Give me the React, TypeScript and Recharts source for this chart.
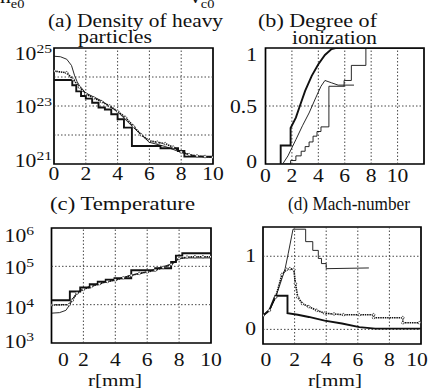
import { LineChart, Line, XAxis, YAxis, ReferenceLine, ReferenceArea } from "recharts";
import type { ReactNode } from "react";

const FONT = '"Liberation Serif", "DejaVu Serif", serif';
const W = 428;
const H = 389;

// (a) density of heavy particles [m^-3]
const aRDome = [0, 0.4, 0.8, 1.1, 1.3, 1.45, 1.6, 2, 3, 4, 5, 6, 7, 8, 9, 10];
const aDome = [5.2e24, 5.0e24, 4.1e24, 2.5e24, 1.1e24, 7e23, 5e23, 2.8e23, 1.5e23, 6.3e22, 1.8e22, 5.6e21, 4e21, 2.5e21, 1.8e21, 1.7e21];
const aRMark = [0, 0.8, 1.2, 1.6, 2, 2.5, 3, 3.5, 4, 4.5, 5, 5.5, 6, 6.5, 7, 7.5, 8, 8.5, 9, 9.5, 10];
const aMark = [1.6e24, 1.4e24, 8.3e23, 4.5e23, 2.6e23, 1.9e23, 1.4e23, 1e23, 6.6e22, 4e22, 2e22, 1e22, 6.3e21, 5.6e21, 5e21, 3.8e21, 2.6e21, 2.1e21, 1.9e21, 1.8e21, 1.7e21];
const aRStep = [0, 1.15, 1.4, 1.7, 2.0, 2.4, 2.8, 3.2, 3.6, 4.0, 4.4, 4.9, 6.7, 7.8, 8.2, 10];
const aStep = [7.9e23, 5.2e23, 3.2e23, 2.2e23, 1.8e23, 1.3e23, 8.9e22, 7.6e22, 5.2e22, 3.5e22, 1.8e22, 4.2e21, 3.5e21, 2.8e21, 1.8e21, 1.8e21];

// (b) degree of ionization
const bRThick = [1.15, 1.15, 1.9, 1.9, 2.3, 2.6, 3.0, 3.5, 4.0, 4.5, 5.0, 5.3, 12];
const bThick = [0, 0.16, 0.16, 0.31, 0.4, 0.5, 0.63, 0.76, 0.86, 0.94, 0.99, 1.0, 1.0];
const bRThin = [1.3, 1.7, 2.3, 2.8, 3.3, 3.8, 4.2, 4.5, 5.0, 5.5, 6.0, 6.7];
const bThin = [0, 0.07, 0.21, 0.33, 0.44, 0.57, 0.67, 0.72, 0.7, 0.68, 0.68, 0.68];
const bRStair = [1.4, 1.9, 2.3, 2.7, 3.0, 3.3, 3.6, 3.9, 4.2, 4.8, 5.95, 6.5, 7.6, 12];
const bStair = [0, 0.03, 0.07, 0.11, 0.15, 0.19, 0.24, 0.28, 0.32, 0.67, 0.72, 0.85, 1.0, 1.0];

// (c) temperature [K]
const cRStep = [0, 1.15, 1.8, 2.4, 2.9, 3.4, 3.95, 5.0, 6.5, 7.5, 7.8, 8.2, 10];
const cStep = [1.3e4, 2.2e4, 2.8e4, 3.4e4, 4e4, 4.5e4, 4.9e4, 7.9e4, 8.9e4, 1.3e5, 1.9e5, 2.2e5, 2.2e5];
const cRThin = [0, 0.5, 0.9, 1.15, 1.3, 1.6, 2, 3, 4, 5, 6, 7, 7.6, 8, 8.5, 9, 10];
const cThin = [6e3, 6.2e3, 7.1e3, 1e4, 1.4e4, 2e4, 2.6e4, 3.6e4, 4.4e4, 5.9e4, 7.2e4, 9.8e4, 1.17e5, 1.6e5, 1.66e5, 1.66e5, 1.66e5];
const cRMark = [0, 1.1, 1.3, 1.6, 2, 2.5, 3, 3.5, 4, 4.5, 5, 5.5, 6, 6.5, 7, 7.5, 8, 8.5, 9, 9.5, 10];
const cMark = [9.8e3, 1e4, 1.3e4, 2e4, 2.5e4, 3e4, 3.5e4, 4e4, 4.4e4, 5e4, 5.8e4, 6.5e4, 7.1e4, 7.9e4, 9.3e4, 1.12e5, 1.6e5, 1.74e5, 1.78e5, 1.78e5, 1.78e5];

// (d) Mach number
const dRUpper = [0, 0.4, 0.8, 1.1, 1.4, 1.6, 1.9, 2.7, 2.7, 3.15, 3.15, 3.5, 3.5, 3.7, 3.7, 4.0, 4.0, 6.7];
const dUpper = [0.19, 0.26, 0.44, 0.63, 0.83, 1.04, 1.37, 1.37, 1.2, 1.2, 1.08, 1.08, 0.97, 0.97, 0.9, 0.9, 0.83, 0.84];
const dRMark = [0, 0.4, 0.8, 1.2, 1.5, 1.7, 1.95, 2.05, 2.2, 2.5, 2.9, 3.4, 3.9, 4.5, 5.1, 6.1, 7.0, 7.0, 8.85, 8.85, 9.9];
const dMark = [0.19, 0.26, 0.44, 0.75, 0.82, 0.83, 0.82, 0.63, 0.44, 0.35, 0.31, 0.26, 0.22, 0.21, 0.2, 0.2, 0.2, 0.16, 0.16, 0.09, 0.09];
const dRLower = [0, 0.4, 0.78, 1.55, 1.55, 2.2, 2.9, 3.9, 5.0, 6.1, 7.1, 10];
const dLower = [0.19, 0.26, 0.46, 0.46, 0.22, 0.2, 0.17, 0.12, 0.08, 0.03, 0.01, 0.01];

const xTicks10 = [0, 2, 4, 6, 8, 10];

const pts = (rs: number[], vs: number[]) => rs.map((r, i) => ({ r, v: vs[i] }));

function SText({ x, y, anchor = "start", size = 18, len, children }: { x: number; y: number; anchor?: string; size?: number; len?: number; children: ReactNode }) {
  return (
    <text
      transform={`translate(${x},${y}) scale(1.2,1)`}
      textAnchor={anchor}
      fontSize={size}
      fontFamily={FONT}
      fill="#111"
      textLength={len ? len / 1.2 : undefined}
      lengthAdjust={len ? "spacingAndGlyphs" : undefined}
    >
      {children}
    </text>
  );
}

type Series = { data: { r: number; v: number }[]; kind: "thin" | "thick" | "mark"; step?: boolean };

interface PanelProps {
  box: [number, number, number, number]; // left, top, right, bottom
  xDomain: [number, number];
  yDomain: [number, number];
  log?: boolean;
  xGrid: number[];
  yGrid: number[];
  yTicks: number[];
  yOff: number[];
  yRight: number;
  xBase: number;
  zeroShift?: number;
  tenShift?: number;
  series: Series[];
}

function Panel({ box, xDomain, yDomain, log, xGrid, yGrid, yTicks, yOff, yRight, xBase, zeroShift = 0, tenShift = 0, series }: PanelProps) {
  const [l, t, r, b] = box;
  const grid = { stroke: "#333", strokeWidth: 0.9, strokeDasharray: "1.5 2" };
  return (
    <div style={{ position: "absolute", left: 0, top: 0 }}>
      <LineChart width={W} height={H} margin={{ left: l - 1, top: t, right: W - r, bottom: H - b - 1 }}>
        <XAxis
          type="number"
          dataKey="r"
          domain={xDomain}
          ticks={xTicks10}
          interval={0}
          height={1}
          axisLine={false}
          tickLine={false}
          tickSize={0}
          tickMargin={0}
          allowDataOverflow
          tick={(p: any) => {
            const v = p.payload.value;
            const dx = v === 0 ? zeroShift : v === 10 ? tenShift : 0;
            return (
              <SText x={p.x + dx} y={xBase} anchor="middle">
                {v}
              </SText>
            );
          }}
        />
        <YAxis
          type="number"
          scale={log ? "log" : "linear"}
          domain={yDomain}
          ticks={yTicks}
          interval={0}
          width={1}
          axisLine={false}
          tickLine={false}
          tickSize={0}
          tickMargin={0}
          allowDataOverflow
          tick={(p: any) => {
            const v = p.payload.value;
            const off = yOff[yTicks.indexOf(v)] ?? 6;
            return log ? (
              <SText x={yRight} y={p.y + off} anchor="end">
                10<tspan dy={-7} fontSize={13}>{Math.round(Math.log10(v))}</tspan>
              </SText>
            ) : (
              <SText x={yRight} y={p.y + off} anchor="end">
                {v}
              </SText>
            );
          }}
        />
        {xGrid.map((g) => (
          <ReferenceLine key={`x${g}`} x={g} {...grid} />
        ))}
        {yGrid.map((g) => (
          <ReferenceLine key={`y${g}`} y={g} {...grid} />
        ))}
        {series.map((s, i) => (
          <Line
            key={i}
            data={s.data}
            dataKey="v"
            type={s.step ? "stepAfter" : "linear"}
            stroke="#111"
            strokeWidth={s.kind === "thick" ? 1.9 : s.kind === "mark" ? 1.6 : 0.9}
            strokeDasharray={s.kind === "mark" ? "1.5 0.8" : undefined}
            dot={s.kind === "mark" ? { r: 1.3, fill: "#fff", stroke: "#111", strokeWidth: 0.8 } : false}
            activeDot={false}
            isAnimationActive={false}
          />
        ))}
        <ReferenceArea x1={xDomain[0]} x2={xDomain[1]} y1={yDomain[0]} y2={yDomain[1]} fill="none" fillOpacity={0} stroke="#000" strokeWidth={1.7} />
      </LineChart>
    </div>
  );
}

export default function App() {
  return (
    <div style={{ position: "absolute", left: 0, top: 0, width: W, height: H, background: "#fff", overflow: "hidden" }}>
      <Panel
        box={[54, 48, 213, 164]}
        xDomain={[0, 10]}
        yDomain={[1e21, 1e25]}
        log
        xGrid={[2, 4, 6, 8]}
        yGrid={[1e22, 1e23, 1e24]}
        yTicks={[1e21, 1e23, 1e25]}
        yOff={[3, 7, 12]}
        yRight={52}
        xBase={180}
        series={[
          { data: pts(aRDome, aDome), kind: "thin" },
          { data: pts(aRMark, aMark), kind: "mark" },
          { data: pts(aRStep, aStep), kind: "thick", step: true },
        ]}
      />
      <Panel
        box={[265.5, 48, 424, 164]}
        xDomain={[0, 12]}
        yDomain={[0, 1]}
        xGrid={[2, 4, 6, 8, 10]}
        yGrid={[0.5]}
        yTicks={[0, 0.5, 1]}
        yOff={[4, 7, 13]}
        yRight={257}
        xBase={182}
        series={[
          { data: pts(bRThick, bThick), kind: "thick" },
          { data: pts(bRThin, bThin), kind: "thin" },
          { data: pts(bRStair, bStair), kind: "thin", step: true },
        ]}
      />
      <Panel
        box={[51.5, 228, 211, 343]}
        xDomain={[0, 10]}
        yDomain={[1e3, 1e6]}
        log
        xGrid={[2, 4, 6, 8]}
        yGrid={[1e4, 1e5]}
        yTicks={[1e3, 1e4, 1e5, 1e6]}
        yOff={[5, 9, 8, 14]}
        yRight={34}
        xBase={366}
        zeroShift={12}
        series={[
          { data: pts(cRThin, cThin), kind: "thin" },
          { data: pts(cRMark, cMark), kind: "mark" },
          { data: pts(cRStep, cStep), kind: "thick", step: true },
        ]}
      />
      <Panel
        box={[263, 227, 421, 344]}
        xDomain={[0, 10]}
        yDomain={[-0.2, 1.4]}
        xGrid={[2, 4, 6, 8]}
        yGrid={[0, 1]}
        yTicks={[0, 1]}
        yOff={[6, 6]}
        yRight={256}
        xBase={366}
        zeroShift={3}
        tenShift={-4}
        series={[
          { data: pts(dRUpper, dUpper), kind: "thin" },
          { data: pts(dRMark, dMark), kind: "mark" },
          { data: pts(dRLower, dLower), kind: "thick" },
        ]}
      />
      <svg width={W} height={H} style={{ position: "absolute", left: 0, top: 0, pointerEvents: "none" }}>
        <SText x={0} y={3}>
          n<tspan dy={5} fontSize={12}>e0</tspan>
        </SText>
        <SText x={190} y={3}>
          v<tspan dy={5} fontSize={12}>c0</tspan>
        </SText>
        <SText x={48} y={27} len={175}>(a) Density of heavy</SText>
        <SText x={78} y={43} len={74}>particles</SText>
        <SText x={258} y={27} len={119}>(b) Degree of</SText>
        <SText x={292} y={44} len={85}>ionization</SText>
        <SText x={50} y={210} len={145}>(c) Temperature</SText>
        <SText x={288} y={210} len={122}>(d) Mach-number</SText>
        <SText x={88} y={385.5} size={17} len={54}>r[mm]</SText>
        <SText x={308} y={385.5} size={17} len={54}>r[mm]</SText>
      </svg>
    </div>
  );
}
